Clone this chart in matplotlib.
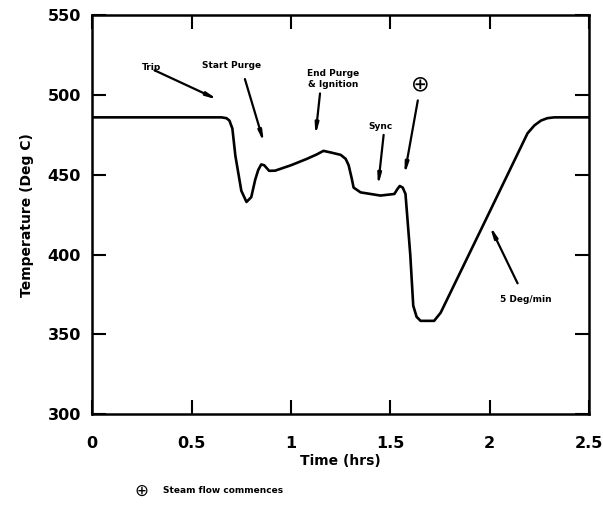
import matplotlib.pyplot as plt

# curve (time in hrs, temperature in deg C)
time_hrs = [0.0, 0.40, 0.65, 0.675, 0.69, 0.705, 0.72, 0.75, 0.776, 0.80, 0.82, 0.835,
            0.85, 0.865, 0.89, 0.92, 1.00, 1.08, 1.13, 1.163, 1.20, 1.25, 1.275,
            1.29, 1.305, 1.315, 1.35, 1.45, 1.52, 1.535, 1.547, 1.562, 1.576, 1.60,
            1.615, 1.632, 1.652, 1.72, 1.753, 2.00, 2.19, 2.225, 2.258, 2.29, 2.325, 2.5]
temp_c = [486, 486, 486, 485.5, 484, 479, 462, 440, 433, 436, 447, 453,
          456.5, 456, 452.5, 452.6, 456, 460, 462.8, 465, 464, 462.5, 460,
          456, 448, 442, 439, 437, 438, 441, 443, 442, 438, 400,
          368, 361, 358.5, 358.5, 363.6, 427, 476, 481, 484, 485.5, 486, 486]

xticks = [0, 0.5, 1, 1.5, 2, 2.5]
xtick_labels = ['0', '0.5', '1', '1.5', '2', '2.5']
yticks = [300, 350, 400, 450, 500, 550]

# (label, text position, arrow tip)
notes = [
    ('Trip', (0.30, 517), (0.633, 497)),
    ('Start Purge', (0.70, 518.5), (0.864, 470)),
    ('End Purge\n& Ignition', (1.214, 510), (1.123, 474.6)),
    ('Sync', (1.45, 480.5), (1.438, 443)),
    ('5 Deg/min', (2.18, 371.7), (2.0, 418)),
]
notes_tail = [(0.313, 515.5), (0.768, 510), (1.146, 501), (1.466, 475), (2.14, 382)]

arrow = dict(arrowstyle='-|>,head_length=0.6,head_width=0.1',
             color='black', lw=1.6, shrinkA=0, shrinkB=0)

fig = plt.figure(figsize=(6.03, 5.07), dpi=100)
ax = fig.add_axes([0.153, 0.183, 0.824, 0.787])

ax.plot(time_hrs, temp_c, color='black', lw=1.9, solid_joinstyle='round')

ax.set_xlim(0, 2.5)
ax.set_ylim(300, 550)
ax.set_xticks(xticks)
ax.set_xticklabels(xtick_labels)
ax.set_yticks(yticks)
ax.tick_params(direction='in', length=10, width=1.5, top=True, right=True,
               labelsize=11.5, pad=8)
ax.tick_params(axis='x', pad=16)
for lab in ax.get_xticklabels() + ax.get_yticklabels():
    lab.set_fontweight('heavy')
for s in ax.spines.values():
    s.set_linewidth(1.8)

ax.set_xlabel('Time (hrs)', fontsize=10, fontweight='heavy', labelpad=2)
ax.set_ylabel('Temperature (Deg C)', fontsize=10, fontweight='heavy', labelpad=10)

for (label, txt, tip), tail in zip(notes, notes_tail):
    ax.text(txt[0], txt[1], label, fontsize=6.5, fontweight='heavy',
            ha='center', va='center', linespacing=1.3)
    ax.annotate('', xy=tip, xytext=tail, arrowprops=arrow)

# steam flow marker
ax.text(1.652, 506.5, '\u2295', fontsize=16, ha='center', va='center')
ax.annotate('', xy=(1.571, 450), xytext=(1.638, 496.6), arrowprops=arrow)

fig.text(0.235, 0.032, '\u2295', fontsize=12, ha='center', va='center')
fig.text(0.27, 0.032, 'Steam flow commences', fontsize=6.5, fontweight='heavy',
         ha='left', va='center')

fig.savefig('out.png', dpi=100)
